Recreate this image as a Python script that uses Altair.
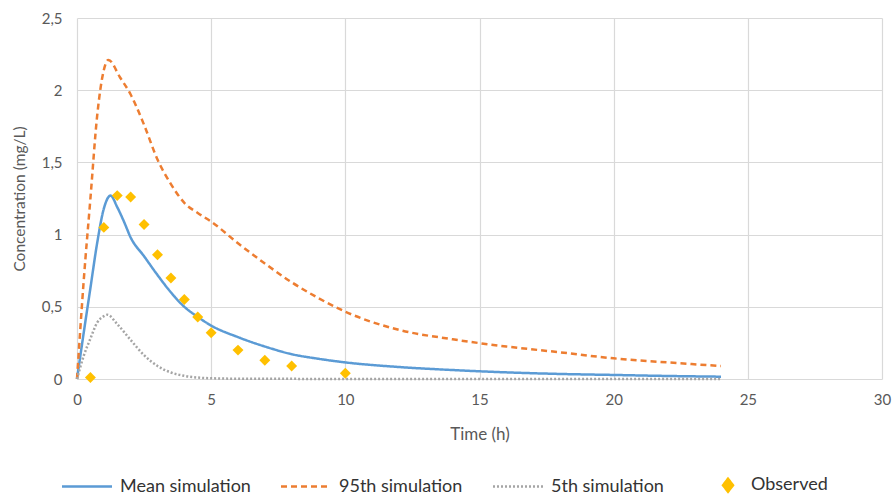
import altair as alt
import pandas as pd

SERIES = ["Mean simulation", "95th simulation", "5th simulation", "Observed"]
COLORS = ["#5B9BD5", "#ED7D31", "#A5A5A5", "#FFC000"]

mean_t = [0, 0.25, 0.5, 0.75, 1.0, 1.25, 1.5, 1.75, 2.0, 2.5, 3.0, 3.5, 4.0, 4.5, 5.0,
          6, 7, 8, 9, 10, 12, 14, 16, 18, 20, 22, 24]
mean_c = [0, 0.32, 0.63, 0.94, 1.18, 1.27, 1.19, 1.09, 0.98, 0.85, 0.72, 0.60, 0.50, 0.43, 0.37,
          0.29, 0.225, 0.172, 0.14, 0.115, 0.083, 0.062, 0.046, 0.035, 0.028, 0.021, 0.016]

p95_t = [0, 0.25, 0.5, 0.75, 1.0, 1.17, 1.6, 2.0, 2.5, 3.0, 3.5, 4.0, 4.5, 5.0,
         6, 7, 8, 9, 10, 12, 14, 16, 18, 20, 22, 24]
p95_c = [0, 0.68, 1.25, 1.82, 2.14, 2.21, 2.09, 1.97, 1.76, 1.52, 1.35, 1.22, 1.15, 1.09,
         0.94, 0.8, 0.67, 0.56, 0.466, 0.34, 0.275, 0.225, 0.185, 0.143, 0.115, 0.09]

p5_t = [0, 0.25, 0.5, 0.75, 1.0, 1.13, 1.5, 2.0, 2.5, 3.0, 3.5, 4.0, 4.5, 5.0,
        6, 8, 10, 12, 16, 20, 24]
p5_c = [0, 0.16, 0.28, 0.39, 0.435, 0.445, 0.38, 0.27, 0.165, 0.09, 0.045, 0.022, 0.01, 0.005,
        0.002, 0.001, 0, 0, 0, 0, 0]

obs_t = [0.5, 1, 1.5, 2, 2.5, 3, 3.5, 4, 4.5, 5, 6, 7, 8, 10]
obs_c = [0.01, 1.05, 1.27, 1.26, 1.07, 0.86, 0.70, 0.55, 0.43, 0.32, 0.20, 0.13, 0.09, 0.04]

x_ticks = [0, 5, 10, 15, 20, 25, 30]
y_ticks = [0, 0.5, 1, 1.5, 2, 2.5]

rows = []
for name, ts, cs in [(SERIES[0], mean_t, mean_c), (SERIES[1], p95_t, p95_c), (SERIES[2], p5_t, p5_c)]:
    for t, c in zip(ts, cs):
        rows.append({"series": name, "time": t, "conc": c})
lines_df = pd.DataFrame(rows)
obs_df = pd.DataFrame({"series": SERIES[3], "time": obs_t, "conc": obs_c})

FONT = "Lato"

x = alt.X("time:Q", scale=alt.Scale(domain=[0, 30], nice=False),
          axis=alt.Axis(values=x_ticks, title="Time (h)", labelPadding=13, titlePadding=19,
                        labelFlush=False, titleFontSize=17))
y = alt.Y("conc:Q", scale=alt.Scale(domain=[0, 2.5], nice=False),
          axis=alt.Axis(values=y_ticks, title="Concentration (mg/L)",
                        labelExpr="replace(toString(datum.value), '.', ',')",
                        labelPadding=15, titlePadding=14, titleFontSize=15.5))


def sel(vals):
    s = SERIES
    return (f"datum.value == '{s[0]}' ? {vals[0]} : datum.value == '{s[1]}' ? {vals[1]} : "
            f"datum.value == '{s[2]}' ? {vals[2]} : {vals[3]}")


legend = alt.Legend(
    title=None, orient="none", direction="horizontal", legendX=-19, legendY=458,
    symbolSize=100, symbolStrokeWidth=2.5, labelOffset=44, columnPadding=25,
    labelFont=FONT, labelFontSize=18, labelColor="#333333",
    symbolType=alt.ExprRef(sel(["'M-1,0H9'"] * 3 + ["'M6,-1.3L7,0L6,1.3L5,0Z'"])),
    symbolDash=alt.ExprRef(sel(["[1,0]", "[6,4]", "[2,2]", "[1,0]"])),
    symbolStrokeColor=alt.ExprRef(sel([f"'{c}'" for c in COLORS[:3]] + ["'transparent'"])),
    symbolFillColor=alt.ExprRef(sel(["'transparent'"] * 3 + [f"'{COLORS[3]}'"])),
    symbolOpacity=1,
)

color = alt.Color("series:N", scale=alt.Scale(domain=SERIES, range=COLORS), legend=legend)

line_layer = alt.Chart(lines_df).mark_line(strokeWidth=2.5, interpolate="monotone").encode(
    x=x, y=y, color=color,
    strokeDash=alt.StrokeDash("series:N", scale=alt.Scale(domain=SERIES[:3], range=[[1, 0], [6, 4], [2, 2]]),
                              legend=None),
    detail="series:N",
)

point_layer = alt.Chart(obs_df).mark_point(shape="diamond", filled=True, size=120, opacity=1).encode(
    x=x, y=y, color=color,
)

chart = alt.layer(line_layer, point_layer).properties(
    width=805, height=361,
    autosize=alt.AutoSizeParams(type="none"),
    padding={"left": 77, "top": 18, "right": 11, "bottom": 117},
).configure_view(stroke=None).configure_axis(
    labelFont=FONT, titleFont=FONT, labelFontSize=15, titleFontSize=15,
    labelColor="#595959", titleColor="#595959", titleFontWeight="normal",
    gridColor="#D9D9D9", gridWidth=1.2, domain=False, ticks=False,
)

chart.save("out.html", embed_options={"renderer": "svg", "actions": False})
